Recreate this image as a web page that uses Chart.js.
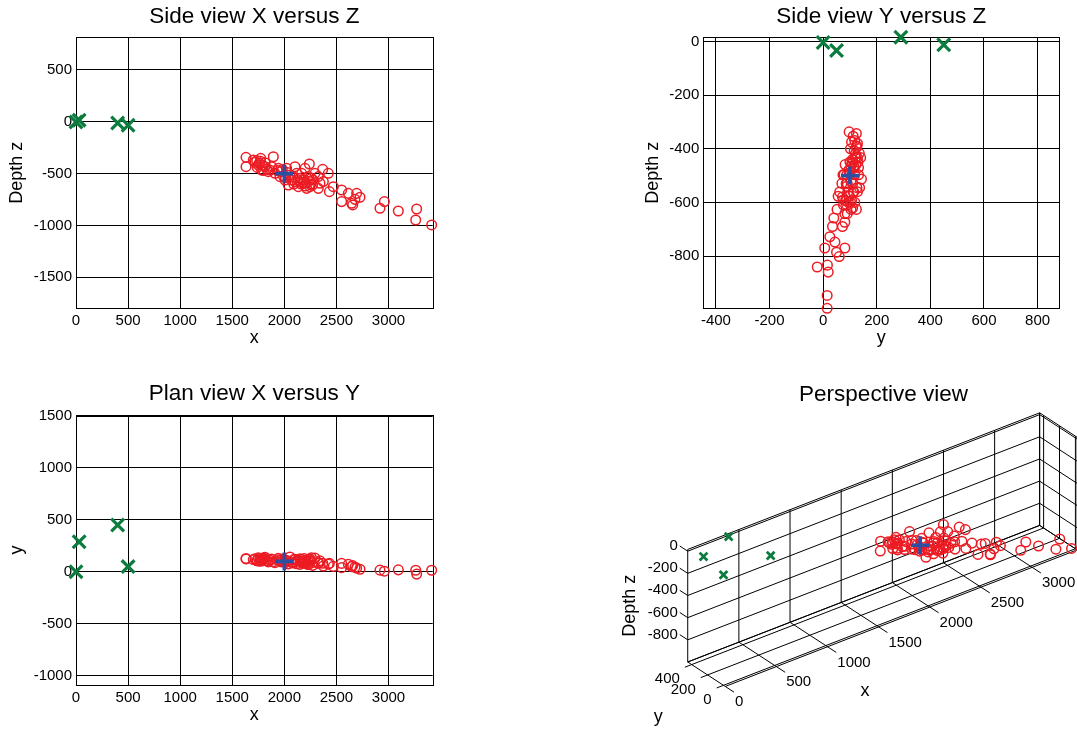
<!DOCTYPE html>
<html>
<head>
<meta charset="utf-8">
<title>Event location views</title>
<script src="https://cdn.jsdelivr.net/npm/chart.js@4.4.1/dist/chart.umd.min.js"></script>
<style>
  html, body { margin: 0; padding: 0; background: #fff; }
  #fig { position: relative; width: 1077px; height: 731px; overflow: hidden; }
  #fig canvas { position: absolute; }
</style>
</head>
<body>
<div id="fig">
  <canvas id="xz" width="540" height="365" style="left:0;top:0;width:540px;height:365px"></canvas>
  <canvas id="yz" width="537" height="365" style="left:540px;top:0;width:537px;height:365px"></canvas>
  <canvas id="xy" width="540" height="366" style="left:0;top:365px;width:540px;height:366px"></canvas>
  <canvas id="persp" width="537" height="366" style="left:540px;top:365px;width:537px;height:366px"></canvas>
</div>
<script>
// located events (x, y, depth z)
const evX = [1632, 1632, 1702, 1773, 1750, 1782, 1814, 1846, 1894, 1878,
             1910, 1942, 1958, 2022, 2054, 2070, 2102, 2118, 2150, 2182,
             2198, 2230, 2240, 2246, 2294, 2272, 2326, 2342, 2368, 2374,
             2326, 2422, 2470, 2432, 2214, 2166, 2102, 2006, 2038, 2134,
             2550, 2550, 2614, 2656, 2694, 2726, 2678, 2646, 2918, 2960,
             3094, 3270, 3261, 3414,
             1720, 1740, 1760, 1790, 1800, 1830, 1860, 1770, 1735, 1815,
             2080, 2130, 2160, 2190, 2210, 2250, 2270, 2090, 2150, 2200, 2230, 2260,
             1970, 1990, 2030, 2010, 1930, 1980];
const evY = [124, 128, 118, 112, 135, 104, 140, 96, 97, 122,
             88, 130, 110, 108, 143, 92, 120, 78, 126, 84,
             100, 70, 116, 124, 132, 62, 90, 106, 82, 56,
             81, 74, 52, 81, 90, 118, 98, 114, 76, 104,
             40, 81, 72, 60, 35, 25, 44, 50, 16, 6,
             19, -22, 15, 15,
             126, 110, 102, 120, 132, 108, 114, 128, 106, 124,
             86, 112, 94, 128, 76, 102, 88, 118, 72, 110, 96, 136,
             96, 104, 100, 88, 116, 122];
const evZ = [-343, -433, -369, -353, -417, -465, -433, -481, -337, -433,
             -497, -449, -529, -449, -513, -561, -433, -497, -545, -593,
             -449, -529, -407, -626, -497, -561, -529, -593, -459, -577,
             -642, -497, -626, -674, -642, -497, -577, -561, -610, -626,
             -658, -770, -690, -802, -690, -728, -748, -786, -834, -770,
             -860, -841, -947, -995,
             -390, -440, -400, -420, -470, -455, -465, -380, -375, -395,
             -530, -560, -600, -560, -590, -600, -610, -600, -580, -620, -575, -545,
             -480, -520, -490, -540, -470, -460];

// stations
const staX = [0, 30, 400, 500];
const staY = [0, 290, 450, 50];
const staZ = [-3, 16, -12, -33];

// reference source
const srcX = [2000];
const srcY = [100];
const srcZ = [-500];

// ticks
const xTicks   = [0, 500, 1000, 1500, 2000, 2500, 3000];
const xzZTicks = [-1500, -1000, -500, 0, 500];
const yzYTicks = [-400, -200, 0, 200, 400, 600, 800];
const yzZTicks = [-800, -600, -400, -200, 0];
const xyYTicks = [-1000, -500, 0, 500, 1000, 1500];
const p3XTicks = [0, 500, 1000, 1500, 2000, 2500, 3000];
const p3YTicks = [0, 200, 400];
const p3ZTicks = [-800, -600, -400, -200, 0];

// axis limits
const xzXLim = [0, 3424], xzZLim = [-1799, 815];
const yzYLim = [-447, 881], yzZLim = [-995, 16];
const xyXLim = [0, 3424], xyYLim = [-1090, 1510];
const p3XLim = [0, 3440], p3YLim = [-22, 450], p3ZLim = [-1000, 16];

const FONT = '"Liberation Sans", Arial, Helvetica, sans-serif';
Chart.defaults.font.family = FONT;
Chart.defaults.color = '#000';

const RED = '#ec1c24', GREEN = '#0b7b3e', BLUE = '#2c4fa3';

const pts = (a, b) => a.map((v, i) => ({ x: v, y: b[i] }));

function markerSets(src, sta, ev, small) {
  return [
    { data: src, pointStyle: 'cross', pointRadius: 9, pointHoverRadius: 9,
      pointBorderWidth: 3.6, pointBorderColor: BLUE, pointBackgroundColor: BLUE, clip: false },
    { data: sta, pointStyle: 'crossRot', pointRadius: small ? 5.5 : 9, pointHoverRadius: small ? 5.5 : 9,
      pointBorderWidth: small ? 2.8 : 3.2, pointBorderColor: GREEN, pointBackgroundColor: GREEN, clip: false },
    { data: ev, pointStyle: 'circle', pointRadius: 4.8, pointHoverRadius: 4.8,
      pointBorderWidth: 1.5, pointBorderColor: RED, pointBackgroundColor: 'rgba(0,0,0,0)', clip: false }
  ];
}

// box around the plot area (matlab style)
const boxFrame = {
  id: 'boxFrame',
  beforeDatasetsDraw(chart) {
    const a = chart.chartArea, c = chart.ctx;
    c.save();
    c.strokeStyle = '#000';
    c.lineWidth = 1;
    c.strokeRect(Math.round(a.left) + 0.5, Math.round(a.top) + 0.5,
                 Math.round(a.right) - Math.round(a.left), Math.round(a.bottom) - Math.round(a.top));
    c.restore();
  }
};

function axis(lim, ticks, label, titlePad, fit) {
  return {
    type: 'linear', min: lim[0], max: lim[1], bounds: 'data',
    afterBuildTicks: s => { s.ticks = ticks.map(v => ({ value: v })); },
    afterFit: fit,
    grid: { color: '#000', lineWidth: 1, drawTicks: false },
    border: { display: true, color: '#000', width: 1 },
    ticks: { autoSkip: false, maxRotation: 0, padding: 4, color: '#000',
             font: { size: 15 }, callback: v => String(v) },
    title: { display: true, text: label, color: '#000', font: { size: 18 }, padding: titlePad }
  };
}

function view2d(id, c) {
  return new Chart(document.getElementById(id), {
    type: 'scatter',
    data: { datasets: markerSets(c.src, c.sta, c.ev, false) },
    options: {
      responsive: false, animation: false, events: [],
      layout: { autoPadding: false, padding: { left: c.padL, right: c.padR, top: 0, bottom: 0 } },
      plugins: {
        legend: { display: false },
        tooltip: { enabled: false },
        title: { display: true, text: c.title, fullSize: false, color: '#000',
                 font: { size: 22.5, weight: 'normal' }, padding: { top: c.tTop, bottom: c.tBot } }
      },
      scales: {
        x: axis(c.xLim, c.xTicks, c.xLabel, { top: 0, bottom: c.xTitlePad }, s => { s.height = c.xH; }),
        y: axis(c.yLim, c.yTicks, c.yLabel, { top: c.yTitlePad, bottom: 0 }, s => { s.width = c.yW; })
      }
    },
    plugins: [boxFrame]
  });
}

view2d('xz', {
  title: 'Side view X versus Z', xLabel: 'x', yLabel: 'Depth z',
  src: pts(srcX, srcZ), sta: pts(staX, staZ), ev: pts(evX, evZ),
  xLim: xzXLim, yLim: xzZLim, xTicks: xTicks, yTicks: xzZTicks,
  padL: 0, padR: 107.3, yW: 76, xH: 56.7, tTop: 3.7, tBot: 6.6, xTitlePad: 15.8, yTitlePad: 5.8
});

view2d('yz', {
  title: 'Side view Y versus Z', xLabel: 'y', yLabel: 'Depth z',
  src: pts(srcY, srcZ), sta: pts(staY, staZ), ev: pts(evY, evZ),
  xLim: yzYLim, yLim: yzZLim, xTicks: yzYTicks, yTicks: yzZTicks,
  padL: 90, padR: 17.7, yW: 73.3, xH: 56.7, tTop: 3.7, tBot: 6.6, xTitlePad: 15.8, yTitlePad: 12.5
});

view2d('xy', {
  title: 'Plan view X versus Y', xLabel: 'x', yLabel: 'y',
  src: pts(srcX, srcY), sta: pts(staX, staY), ev: pts(evX, evY),
  xLim: xyXLim, yLim: xyYLim, xTicks: xTicks, yTicks: xyYTicks,
  padL: 0, padR: 107.3, yW: 76, xH: 46, tTop: 15.3, tBot: 7.7, xTitlePad: 5.1, yTitlePad: 6.7
});

// ---- perspective view: orthographic projection into canvas pixels ----
const P3 = { ox: 183.5, oy: 209.5, ex: [0.1023, -0.0397], ey: [-0.0795, -0.0518], ez: -0.1108 };
const TICK_X = 110, TICK_Y = 67, TICK_Z = 100;   // tick lengths in data units

function proj(x, y, z) {
  return { x: P3.ox + x * P3.ex[0] + y * P3.ey[0],
           y: P3.oy + x * P3.ex[1] + y * P3.ey[1] + z * P3.ez };
}
const proj3 = (xs, ys, zs) => xs.map((v, i) => proj(v, ys[i], zs[i]));
const uniq = a => [...new Set(a)].sort((p, q) => p - q);

function boxLines() {
  const [x0, x1] = p3XLim, [y0, y1] = p3YLim, [z0, z1] = p3ZLim;
  const xs = uniq([x0, ...p3XTicks, x1]);
  const ys = uniq([y0, ...p3YTicks, y1]);
  const zs = uniq([z0, ...p3ZTicks, z1]);
  const out = [];
  const seg = (a, b) => { out.push(proj(...a), proj(...b), { x: NaN, y: NaN }); };
  // back wall y = ymax
  xs.forEach(x => seg([x, y1, z0], [x, y1, z1]));
  zs.forEach(z => seg([x0, y1, z], [x1, y1, z]));
  // side wall x = xmax
  ys.forEach(y => seg([x1, y, z0], [x1, y, z1]));
  zs.forEach(z => seg([x1, y0, z], [x1, y1, z]));
  // floor z = zmin
  xs.forEach(x => seg([x, y0, z0], [x, y1, z0]));
  ys.forEach(y => seg([x0, y, z0], [x1, y, z0]));
  // tick marks
  p3XTicks.forEach(x => seg([x, y0, z0], [x, y0 - TICK_X, z0]));
  p3YTicks.forEach(y => seg([x0, y, z0], [x0 - TICK_Y, y, z0]));
  p3ZTicks.forEach(z => seg([x0, y1, z], [x0, y1 + TICK_Z, z]));
  return out;
}

const labels3d = {
  id: 'labels3d',
  afterDatasetsDraw(chart) {
    const c = chart.ctx, sx = chart.scales.x, sy = chart.scales.y;
    const at = p => [sx.getPixelForValue(p.x), sy.getPixelForValue(p.y)];
    const [x0] = p3XLim, [y0, y1] = p3YLim, [z0] = p3ZLim;
    c.save();
    c.fillStyle = '#000';
    c.font = '15px ' + FONT;
    c.textBaseline = 'middle';
    c.textAlign = 'right';
    p3ZTicks.forEach(z => { const [u, v] = at(proj(x0, y1 + TICK_Z, z)); c.fillText(String(z), u - 2, v); });
    p3YTicks.forEach(y => { const [u, v] = at(proj(x0 - TICK_Y, y, z0)); c.fillText(String(y), u - 5, v + 12); });
    c.textAlign = 'left';
    p3XTicks.forEach(x => { const [u, v] = at(proj(x, y0 - TICK_X, z0)); c.fillText(String(x), u + 1, v + 10); });
    // axis names
    c.font = '18px ' + FONT;
    c.textAlign = 'center';
    c.fillText('x', 325, 326.4);
    c.fillText('y', 118.3, 352);
    c.translate(90, 240.8);
    c.rotate(-Math.PI / 2);
    c.fillText('Depth z', 0, 0);
    c.restore();
  }
};

new Chart(document.getElementById('persp'), {
  type: 'scatter',
  data: {
    datasets: [
      ...markerSets(proj3(srcX, srcY, srcZ), proj3(staX, staY, staZ), proj3(evX, evY, evZ), true),
      { data: boxLines(), showLine: true, spanGaps: false, pointRadius: 0, pointHoverRadius: 0,
        borderColor: '#000', borderWidth: 1, clip: false }
    ]
  },
  options: {
    responsive: false, animation: false, events: [],
    layout: { autoPadding: false, padding: { left: 150, right: 0, top: 0, bottom: 0 } },
    plugins: {
      legend: { display: false },
      tooltip: { enabled: false },
      title: { display: true, text: 'Perspective view', fullSize: false, color: '#000',
               font: { size: 22.5, weight: 'normal' }, padding: { top: 16, bottom: 5 } }
    },
    scales: {
      x: { type: 'linear', display: false, min: 150, max: 537 },
      y: { type: 'linear', display: false, min: 48, max: 366, reverse: true }
    }
  },
  plugins: [labels3d]
});
</script>
</body>
</html>
